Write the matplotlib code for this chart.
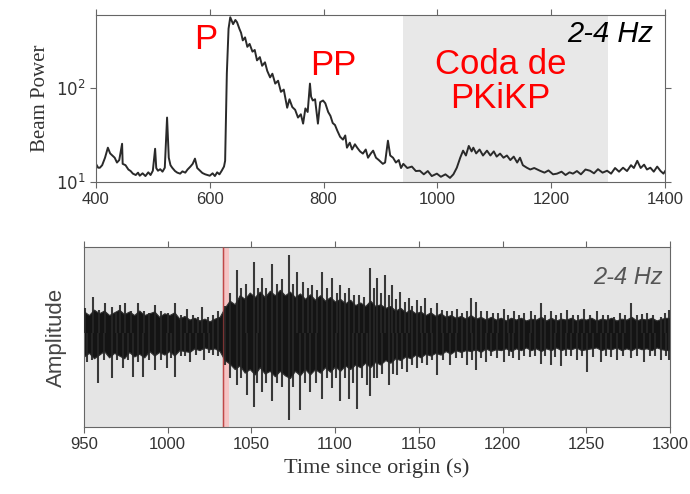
import matplotlib
matplotlib.use("Agg")
import matplotlib.pyplot as plt

# ---------------- data: beam power (upper panel) ----------------
bp_time = [400, 404, 407, 411, 416, 421, 425, 429, 433, 437, 441, 446, 447, 452, 457, 461, 465,
           470, 474, 477, 482, 487, 492, 496, 500, 504, 506, 509, 513, 517, 521, 525, 528, 531,
           534, 539, 543, 548, 552, 557, 561, 566, 570, 574, 578, 583, 587, 592, 596, 600, 605,
           609, 613, 617, 621, 625, 627, 630, 633, 636, 641, 645, 648, 652, 655, 658, 662, 666,
           670, 675, 679, 683, 688, 692, 697, 701, 706, 710, 715, 720, 725, 730, 736, 740, 745,
           750, 755, 760, 764, 768, 772, 776, 778, 781, 785, 790, 794, 799, 803, 808, 812, 816,
           820, 824, 829, 834, 838, 841, 846, 850, 855, 859, 864, 869, 874, 878, 883, 887, 892,
           897, 904, 908, 913, 917, 922, 927, 932, 936, 940, 947, 955, 962, 969, 976, 983, 990,
           999, 1006, 1014, 1022, 1028, 1034, 1040, 1045, 1050, 1055, 1060, 1063, 1068, 1074,
           1080, 1087, 1093, 1099, 1104, 1110, 1116, 1122, 1128, 1134, 1140, 1145, 1150, 1157,
           1163, 1170, 1180, 1188, 1195, 1203, 1210, 1218, 1225, 1232, 1238, 1245, 1252, 1260,
           1268, 1275, 1282, 1290, 1298, 1305, 1312, 1319, 1326, 1333, 1340, 1345, 1351, 1357,
           1363, 1368, 1374, 1380, 1386, 1392, 1397, 1400]
bp_power = [15.5, 14.1, 14.1, 15, 18, 23, 20, 19, 18, 16, 17, 25.3, 15.5, 15, 13.5, 13, 12.2,
            11.8, 12.5, 11.6, 12.3, 11.5, 12.6, 11.8, 13.1, 22.4, 14, 13.1, 13.6, 12.8, 14.1, 48,
            18, 15, 14.1, 13, 12.5, 12.2, 12.9, 12.5, 13.5, 14.5, 15.5, 17.6, 14, 13.1, 12.4, 12,
            11.8, 11.6, 12.3, 11.5, 12.6, 12, 13.1, 14.5, 16.7, 141, 420, 556, 470, 520, 491, 420,
            380, 316, 340, 270, 290, 240, 250, 194, 210, 170, 185, 150, 128, 140, 110, 118, 90, 95,
            61, 75, 62, 58, 48, 52, 41.4, 60, 55, 110, 80, 72.8, 75, 41.4, 70, 72.8, 68, 55, 50,
            42, 40, 34.9, 30, 28, 31, 23, 26, 22, 25, 23, 21, 19.9, 22, 18, 20, 21.4, 18, 17, 15.5,
            16, 27.3, 19, 18, 16, 17, 14, 15.5, 14, 14.5, 13, 13.1, 12, 13, 11.5, 12.2, 11.3, 12,
            11.0, 12, 14.1, 18, 21.4, 19, 24, 21, 23, 20, 22, 19, 21.4, 19, 21, 18.5, 19.9, 18, 19,
            17, 18.5, 16, 18, 15, 14.1, 13.5, 14, 13.1, 12.5, 13.2, 12, 12.2, 12.8, 11.8, 12.6,
            12.2, 13, 12, 13.5, 13.1, 12.3, 13.6, 12.5, 13.1, 12.2, 14, 12.8, 14.1, 13, 15, 14,
            16.7, 14, 15.2, 13.5, 14.1, 12.8, 14.5, 13, 12.2, 13]
coda_window = [940, 1300]
phase_labels = ["P", "PP", "Coda de\nPKiKP"]
band_label = "2-4 Hz"

# ---------------- data: waveform (lower panel) ----------------
core_time = [950, 953, 956, 959, 962, 965, 968, 971, 974, 977, 980, 983, 986, 989, 992, 995,
             998, 1001, 1004, 1007, 1010, 1013, 1016, 1019, 1022, 1025, 1028, 1031, 1034, 1037,
             1040, 1043, 1046, 1049, 1052, 1055, 1058, 1061, 1064, 1067, 1070, 1073, 1076, 1079,
             1082, 1085, 1088, 1091, 1094, 1097, 1100, 1103, 1106, 1109, 1112, 1115, 1118, 1121,
             1124, 1127, 1130, 1133, 1136, 1139, 1142, 1145, 1148, 1151, 1154, 1157, 1160, 1163,
             1166, 1169, 1172, 1175, 1178, 1181, 1184, 1187, 1190, 1193, 1196, 1199, 1202, 1205,
             1208, 1211, 1214, 1217, 1220, 1223, 1226, 1229, 1232, 1235, 1238, 1241, 1244, 1247,
             1250, 1253, 1256, 1259, 1262, 1265, 1268, 1271, 1274, 1277, 1280, 1283, 1286, 1289,
             1292, 1295, 1298, 1300]
core_hi = [0.24, 0.2, 0.26, 0.22, 0.25, 0.2, 0.23, 0.26, 0.21, 0.24, 0.2, 0.25, 0.2, 0.22,
           0.24, 0.18, 0.22, 0.2, 0.23, 0.16, 0.19, 0.15, 0.17, 0.14, 0.16, 0.13, 0.16, 0.18,
           0.28, 0.36, 0.32, 0.42, 0.38, 0.45, 0.4, 0.46, 0.4, 0.47, 0.42, 0.48, 0.42, 0.46, 0.4,
           0.44, 0.38, 0.43, 0.37, 0.42, 0.36, 0.4, 0.35, 0.38, 0.33, 0.37, 0.31, 0.34, 0.3,
           0.36, 0.3, 0.32, 0.28, 0.3, 0.25, 0.28, 0.23, 0.26, 0.22, 0.24, 0.2, 0.23, 0.19, 0.22,
           0.18, 0.2, 0.17, 0.19, 0.16, 0.2, 0.16, 0.18, 0.15, 0.18, 0.15, 0.17, 0.14, 0.17,
           0.15, 0.17, 0.14, 0.16, 0.15, 0.18, 0.14, 0.17, 0.14, 0.16, 0.15, 0.17, 0.14, 0.16,
           0.15, 0.17, 0.14, 0.16, 0.15, 0.17, 0.14, 0.16, 0.15, 0.18, 0.14, 0.16, 0.15, 0.17,
           0.14, 0.16, 0.17, 0.16]
core_lo = [-0.26, -0.22, -0.28, -0.24, -0.2, -0.27, -0.22, -0.25, -0.28, -0.21, -0.26, -0.23,
           -0.27, -0.2, -0.25, -0.21, -0.24, -0.2, -0.25, -0.19, -0.2, -0.21, -0.17, -0.19,
           -0.16, -0.18, -0.17, -0.2, -0.3, -0.34, -0.4, -0.36, -0.44, -0.4, -0.46, -0.38,
           -0.45, -0.42, -0.48, -0.42, -0.47, -0.5, -0.42, -0.47, -0.4, -0.46, -0.4, -0.44,
           -0.38, -0.43, -0.37, -0.42, -0.36, -0.4, -0.35, -0.38, -0.33, -0.38, -0.32, -0.35,
           -0.3, -0.33, -0.28, -0.3, -0.26, -0.28, -0.24, -0.27, -0.23, -0.25, -0.22, -0.24,
           -0.2, -0.23, -0.19, -0.21, -0.19, -0.2, -0.18, -0.21, -0.17, -0.2, -0.18, -0.19,
           -0.17, -0.2, -0.17, -0.19, -0.16, -0.19, -0.17, -0.2, -0.17, -0.19, -0.16, -0.19,
           -0.17, -0.18, -0.16, -0.19, -0.18, -0.17, -0.16, -0.19, -0.17, -0.18, -0.16, -0.19,
           -0.17, -0.19, -0.16, -0.18, -0.17, -0.19, -0.16, -0.18, -0.19, -0.18]

peak_time = [950.5, 955.6, 959, 962.6, 966.5, 969, 971.5, 974.5, 978, 982.5, 986, 989, 992.5,
             996, 1000, 1004.4, 1008, 1011.4, 1015, 1018, 1020.4, 1024, 1027.3, 1030, 1034,
             1037, 1041.3, 1044, 1047, 1051.3, 1054, 1056.3, 1059, 1062.2, 1065, 1068, 1072.2,
             1075, 1077.1, 1081.1, 1084, 1086.1, 1089, 1092.1, 1095, 1098.1, 1101, 1103.1, 1106,
             1108, 1111, 1114, 1117, 1121, 1123, 1125, 1127.5, 1130, 1132, 1134, 1136.5, 1139,
             1141.5, 1143.9, 1146, 1148.9, 1151, 1153.9, 1157, 1160.9, 1164, 1166.9, 1170,
             1172.8, 1176, 1178.8, 1180.9, 1183.9, 1187, 1190.8, 1194, 1197, 1200.8, 1203.5,
             1206.8, 1210, 1213, 1216.8, 1219.5, 1222.7, 1225.5, 1228.7, 1232, 1235, 1238.7,
             1242, 1245, 1248.7, 1252, 1256.6, 1260, 1263, 1266.6, 1270, 1273, 1276.6, 1280,
             1283, 1286.5, 1290, 1294.5, 1297, 1299.5]
peak_amp = [0.28, 0.40, 0.26, 0.33, 0.29, 0.22, 0.31, 0.33, 0.24, 0.33, 0.25, 0.22, 0.31, 0.24,
            0.22, 0.33, 0.2, 0.27, 0.2, 0.18, 0.29, 0.18, 0.20, 0.24, 0.3, 0.45, 0.70, 0.5, 0.55,
            0.79, 0.5, 0.61, 0.5, 0.77, 0.55, 0.6, 0.87, 0.55, 0.68, 0.57, 0.5, 0.53, 0.48, 0.68,
            0.5, 0.61, 0.45, 0.53, 0.45, 0.50, 0.42, 0.42, 0.4, 0.72, 0.5, 0.61, 0.45, 0.64, 0.42,
            0.53, 0.38, 0.46, 0.35, 0.39, 0.3, 0.37, 0.3, 0.39, 0.28, 0.33, 0.26, 0.24, 0.25, 0.27,
            0.22, 0.24, 0.39, 0.35, 0.25, 0.24, 0.22, 0.22, 0.27, 0.2, 0.24, 0.2, 0.22, 0.24, 0.2,
            0.33, 0.2, 0.24, 0.2, 0.22, 0.26, 0.2, 0.2, 0.27, 0.2, 0.24, 0.2, 0.2, 0.18, 0.22,
            0.2, 0.33, 0.2, 0.21, 0.22, 0.2, 0.18, 0.22, 0.26]
trough_time = [951.6, 955, 958.6, 962, 966.5, 970, 973.5, 976.5, 979.5, 982.5, 985.5, 989,
               992.5, 996, 999.4, 1002, 1004.4, 1008, 1010.5, 1013.4, 1017, 1021.4, 1024.5,
               1027.3, 1030, 1034, 1037, 1041.3, 1044, 1047.3, 1051.3, 1053.5, 1056.3, 1059,
               1062.2, 1065, 1068, 1072.2, 1075, 1079.1, 1082, 1085.1, 1088.5, 1092.1, 1095,
               1098.1, 1100.5, 1103.1, 1106, 1108, 1110.5, 1113, 1116, 1119, 1121, 1123, 1125,
               1128, 1132, 1134.5, 1137, 1140, 1143, 1146, 1148.9, 1152, 1154.9, 1158, 1160.9,
               1164.5, 1168.9, 1172, 1175.5, 1178.9, 1181.5, 1183.9, 1187, 1189.9, 1193, 1196.5,
               1200.8, 1204, 1206.5, 1209.8, 1213, 1216.5, 1219.5, 1222.7, 1225.5, 1228.7,
               1231.5, 1234.7, 1238, 1241, 1244.7, 1247.5, 1250.7, 1254, 1258.6, 1262, 1265,
               1268.6, 1272, 1276.6, 1280, 1284.6, 1288, 1291, 1294.5, 1297.5, 1299.5]
trough_amp = [-0.32, -0.3, -0.56, -0.3, -0.50, -0.3, -0.39, -0.3, -0.49, -0.32, -0.49, -0.3,
              -0.41, -0.3, -0.39, -0.28, -0.49, -0.26, -0.25, -0.32, -0.24, -0.30, -0.22, -0.24,
              -0.26, -0.35, -0.5, -0.58, -0.5, -0.69, -0.82, -0.55, -0.65, -0.55, -0.76, -0.55,
              -0.6, -0.97, -0.6, -0.86, -0.55, -0.65, -0.55, -0.73, -0.5, -0.61, -0.5, -0.76,
              -0.5, -0.73, -0.55, -0.84, -0.5, -0.58, -0.70, -0.5, -0.50, -0.45, -0.58, -0.45,
              -0.47, -0.4, -0.43, -0.35, -0.39, -0.33, -0.36, -0.3, -0.47, -0.3, -0.36, -0.28,
              -0.28, -0.36, -0.3, -0.41, -0.28, -0.32, -0.25, -0.28, -0.32, -0.25, -0.28, -0.30,
              -0.25, -0.27, -0.25, -0.34, -0.26, -0.36, -0.27, -0.37, -0.26, -0.25, -0.30, -0.26,
              -0.43, -0.27, -0.32, -0.25, -0.27, -0.30, -0.25, -0.28, -0.26, -0.32, -0.25, -0.26,
              -0.30, -0.25, -0.3]
onset_time = 1033
onset_band = [1033, 1036.5]

# ---------------- figure ----------------
fig = plt.figure(figsize=(6.9, 4.94), dpi=100)
spine_col = "#666666"
tick_col = "#333333"

# upper panel
ax1 = fig.add_axes([0.139, 0.632, 0.825, 0.338])
ax1.axvspan(coda_window[0], coda_window[1], color="#e8e8e8", lw=0, zorder=0)
ax1.plot(bp_time, bp_power, color="#2a2a2a", lw=1.4, zorder=2)
ax1.set_yscale("log")
ax1.set_xlim(400, 1400)
ax1.set_ylim(10, 590)
ax1.set_xticks([400, 600, 800, 1000, 1200, 1400])
ax1.set_yticks([10, 100])
ax1.set_yticklabels(["$10^1$", "$10^2$"])
ax1.minorticks_off()
ax1.tick_params(axis="both", which="both", direction="out", colors=spine_col, labelcolor=tick_col,
                labelsize=12, top=True, right=True, length=4)
for s in ax1.spines.values():
    s.set_color(spine_col)
ax1.set_ylabel("Beam Power", family="Liberation Serif", fontsize=15, color="#333333", labelpad=4)
for lab in ax1.get_xticklabels():
    lab.set_family("Liberation Sans")

ax1.text(0.193, 0.850, phase_labels[0], transform=ax1.transAxes, color="red", fontsize=25,
         ha="center", va="center", family="Liberation Sans")
ax1.text(0.4165, 0.695, phase_labels[1], transform=ax1.transAxes, color="red", fontsize=25,
         ha="center", va="center", family="Liberation Sans")
ax1.text(0.711, 0.60, phase_labels[2], transform=ax1.transAxes, color="red", fontsize=25,
         ha="center", va="center", family="Liberation Sans", linespacing=1.05)
ax1.text(0.979, 0.886, band_label, transform=ax1.transAxes, color="black", fontsize=21,
         ha="right", va="center", style="italic", family="Liberation Sans")

# lower panel
ax2 = fig.add_axes([0.1217, 0.1356, 0.8493, 0.3644])
ax2.set_facecolor("#e5e5e5")
ax2.axvspan(onset_band[0], onset_band[1], color="#f6c4c4", lw=0, zorder=1)
ax2.axvline(onset_time, color="#c04848", lw=1.0, zorder=1)
ax2.fill_between(core_time, core_lo, core_hi, color="#141414", lw=0.8, edgecolor="#303030",
                 zorder=2)
ax2.vlines(peak_time, 0, peak_amp, color="#262626", lw=1.5, alpha=0.9, zorder=3)
ax2.vlines(trough_time, trough_amp, 0, color="#262626", lw=1.5, alpha=0.9, zorder=3)
ax2.axvline(onset_time, color="#c04848", lw=0.9, alpha=0.6, zorder=4)
ax2.set_xlim(950, 1300)
ax2.set_ylim(-1.044, 0.956)
ax2.set_xticks([950, 1000, 1050, 1100, 1150, 1200, 1250, 1300])
ax2.set_yticks([])
ax2.tick_params(axis="x", direction="out", colors=spine_col, labelcolor=tick_col, labelsize=12,
                top=True, length=4)
for s in ax2.spines.values():
    s.set_color(spine_col)
for lab in ax2.get_xticklabels():
    lab.set_family("Liberation Sans")
ax2.set_xlabel("Time since origin (s)", family="Liberation Serif", fontsize=16, color="#333333",
               labelpad=4)
ax2.set_ylabel("Amplitude", family="Liberation Sans", fontsize=16, color="#444444", labelpad=12)
ax2.text(0.988, 0.83, band_label, transform=ax2.transAxes, color="#555555", fontsize=17,
         ha="right", va="center", style="italic", family="Liberation Sans")

fig.savefig("out.png", dpi=100)
